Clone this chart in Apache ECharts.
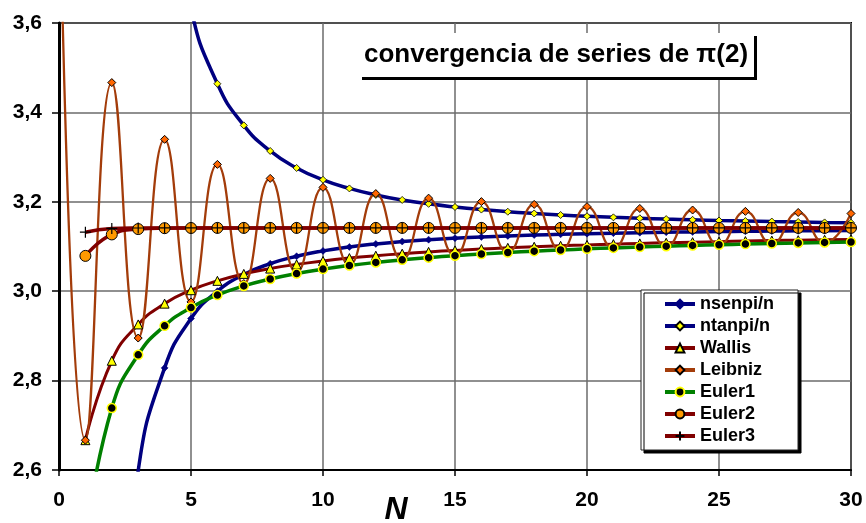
<!DOCTYPE html>
<html>
<head>
<meta charset="utf-8">
<script src="https://cdn.jsdelivr.net/npm/echarts/dist/echarts.min.js"></script>
<style>
html,body{margin:0;padding:0;background:#fff;}
#chart{width:866px;height:523px;}
</style>
</head>
<body>
<div id="chart"></div>
<script>
// n values (x axis)
const N = [0,1,2,3,4,5,6,7,8,9,10,11,12,13,14,15,16,17,18,19,20,21,22,23,24,25,26,27,28,29,30];
const xTicks = [0,5,10,15,20,25,30];
const yTicks = [2.6,2.8,3.0,3.2,3.4,3.6];

const nsenpi  = [null,0.0000,2.0000,2.5981,2.8284,2.9389,3.0000,3.0372,3.0615,3.0782,3.0902,3.0990,3.1058,3.1111,3.1153,3.1187,3.1214,3.1237,3.1257,3.1273,3.1287,3.1299,3.1309,3.1318,3.1326,3.1333,3.1340,3.1345,3.1350,3.1354,3.1359];
const ntanpi  = [null,null,null,5.1962,4.0000,3.6327,3.4641,3.3710,3.3137,3.2757,3.2492,3.2299,3.2154,3.2042,3.1954,3.1884,3.1826,3.1778,3.1739,3.1705,3.1677,3.1652,3.1631,3.1613,3.1597,3.1582,3.1570,3.1558,3.1548,3.1539,3.1531];
const wallis  = [null,2.6667,2.8444,2.9257,2.9722,3.0022,3.0232,3.0387,3.0506,3.0600,3.0677,3.0741,3.0794,3.0840,3.0879,3.0913,3.0944,3.0970,3.0994,3.1016,3.1035,3.1053,3.1069,3.1084,3.1097,3.1109,3.1121,3.1132,3.1142,3.1151,3.1159];
const leibniz = [4.0000,2.6667,3.4667,2.8952,3.3397,2.9760,3.2837,3.0171,3.2524,3.0418,3.2323,3.0584,3.2184,3.0703,3.2082,3.0792,3.2004,3.0861,3.1942,3.0916,3.1892,3.0962,3.1851,3.0999,3.1816,3.1031,3.1786,3.1059,3.1761,3.1083,3.1738];
const euler1  = [null,2.4495,2.7386,2.8577,2.9226,2.9634,2.9914,3.0118,3.0273,3.0395,3.0494,3.0575,3.0643,3.0701,3.0751,3.0794,3.0832,3.0866,3.0896,3.0922,3.0947,3.0969,3.0989,3.1007,3.1024,3.1039,3.1054,3.1067,3.1079,3.1091,3.1101];
const euler2  = [null,3.0790,3.1270,3.1390,3.1410,3.1414,3.1416,3.1416,3.1416,3.1416,3.1416,3.1416,3.1416,3.1416,3.1416,3.1416,3.1416,3.1416,3.1416,3.1416,3.1416,3.1416,3.1416,3.1416,3.1416,3.1416,3.1416,3.1416,3.1416,3.1416,3.1416];
const euler3  = [null,3.1320,3.1405,3.1414,3.1416,3.1416,3.1416,3.1416,3.1416,3.1416,3.1416,3.1416,3.1416,3.1416,3.1416,3.1416,3.1416,3.1416,3.1416,3.1416,3.1416,3.1416,3.1416,3.1416,3.1416,3.1416,3.1416,3.1416,3.1416,3.1416,3.1416];

const FONT = "'Liberation Sans', Arial, sans-serif";

function pairs(vals){
  const out = [];
  N.forEach((n,i)=>{ if(vals[i]!==null && vals[i]!==undefined) out.push([n, vals[i]]); });
  return out;
}
function mk(name, vals, lineColor, lineWidth, symbol, symbolSize, fill, border, borderWidth){
  return {
    name: name, type:'line', data: pairs(vals), smooth: true,
    symbol: symbol, symbolSize: symbolSize, showAllSymbol: true,
    lineStyle: {color: lineColor, width: lineWidth},
    itemStyle: {color: fill, borderColor: border, borderWidth: borderWidth},
    emphasis: {disabled: true}
  };
}
const PLUS = 'path://M0,5L10,5M5,0L5,10';

const chart = echarts.init(document.getElementById('chart'), null, {renderer:'canvas'});
chart.setOption({
  animation: false,
  backgroundColor: '#fff',
  grid: {left:59, right:15, top:23, bottom:53, show:true, borderColor:'#000', borderWidth:2, backgroundColor:'transparent'},
  xAxis: {
    type:'value', min: xTicks[0], max: xTicks[xTicks.length-1], interval: 5,
    axisLine:{show:true, onZero:false, lineStyle:{color:'#000', width:2}},
    axisTick:{show:true, length:6, lineStyle:{color:'#000', width:1.5}},
    axisLabel:{fontSize:21, fontWeight:'bold', color:'#000', fontFamily:FONT, margin:20},
    splitLine:{show:true, lineStyle:{color:'#6b6b6b', width:1.5}}
  },
  yAxis: {
    type:'value', min: yTicks[0], max: yTicks[yTicks.length-1], interval: 0.2,
    axisLine:{show:true, lineStyle:{color:'#000', width:3}},
    axisTick:{show:true, length:7, lineStyle:{color:'#000', width:1.5}},
    axisLabel:{fontSize:21, fontWeight:'bold', color:'#000', fontFamily:FONT, margin:17,
      formatter: v => v.toFixed(1).replace('.', ',')},
    splitLine:{show:true, lineStyle:{color:'#6b6b6b', width:1.5}}
  },
  legend: {
    orient:'vertical', left:641, top:290,
    padding:[5,24,5,22], itemGap:4, itemWidth:30, itemHeight:11,
    backgroundColor:'#fff', borderColor:'#222', borderWidth:1,
    shadowColor:'#000', shadowBlur:0, shadowOffsetX:3, shadowOffsetY:3,
    lineStyle:{width:4},
    textStyle:{fontSize:18, fontWeight:'bold', color:'#000', fontFamily:FONT},
    data:['nsenpi/n','ntanpi/n','Wallis','Leibniz','Euler1','Euler2','Euler3'],
    z: 10
  },
  graphic: [
    {type:'rect', shape:{x:362, y:36, width:395, height:44}, style:{fill:'#000'}, z:20, silent:true},
    {type:'rect', shape:{x:359, y:33, width:395, height:44}, style:{fill:'#fff'}, z:21, silent:true},
    {type:'text', x:556, y:55, z:22, silent:true,
      style:{text:'convergencia de series de π(2)', fill:'#000', font:"bold 26px 'Liberation Sans', Arial, sans-serif", textAlign:'center', textVerticalAlign:'middle'}},
    {type:'text', x:396, y:494, z:22, silent:true,
      style:{text:'N', fill:'#000', font:"italic bold 32px 'Liberation Sans', Arial, sans-serif", textAlign:'center', textVerticalAlign:'top'}}
  ],
  series: [
    mk('nsenpi/n', nsenpi, '#000080', 3.5, 'diamond', 7, '#000080', '#000080', 0.5),
    mk('ntanpi/n', ntanpi, '#000080', 3.5, 'diamond', 7, '#ffff00', '#000', 0.8),
    mk('Wallis', wallis, '#800000', 3, 'triangle', 9, '#ffff00', '#000', 1),
    mk('Leibniz', leibniz, '#a33c0a', 2.3, 'diamond', 8, '#ff6600', '#000', 1),
    mk('Euler1', euler1, '#008000', 3.5, 'circle', 9, '#000', '#ffff00', 1.5),
    mk('Euler2', euler2, '#800000', 3.5, 'circle', 11, '#ff9900', '#000', 1),
    mk('Euler3', euler3, '#800000', 3.5, PLUS, 11, '#000', '#000', 1.2)
  ]
});
</script>
</body>
</html>
